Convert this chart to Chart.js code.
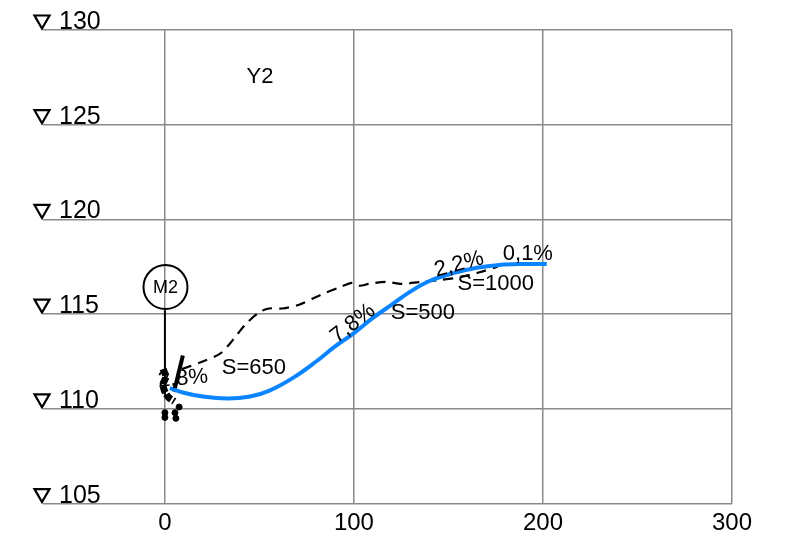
<!DOCTYPE html>
<html>
<head>
<meta charset="utf-8">
<script src="https://cdn.jsdelivr.net/npm/chart.js@4"></script>
<style>
  html, body { margin: 0; padding: 0; background: #fff; }
  #wrap { width: 785px; height: 544px; }
</style>
</head>
<body>
<div id="wrap"><canvas id="profile_chart"></canvas></div>
<script>
// axis ticks
var xTicks = [0, 100, 200, 300];
var yTicks = [105, 110, 115, 120, 125, 130];

// design line (blue)
var designX = [2.6, 10, 20, 33, 45, 55, 68, 80, 90, 100, 110, 120, 130, 140, 152, 165, 177, 190, 202];
var designY = [111.1, 110.85, 110.65, 110.55, 110.65, 110.95, 111.65, 112.5, 113.3, 114.0, 114.8, 115.5, 116.2, 116.75, 117.15, 117.45, 117.6, 117.65, 117.65];

// existing ground (dashed)
var groundX = [9, 20, 29, 34, 38, 43, 50, 55, 62, 71, 82, 92, 99, 103, 108, 117, 125, 135, 145, 156, 166, 176];
var groundY = [112.1, 112.5, 112.9, 113.4, 113.9, 114.5, 115.1, 115.3, 115.3, 115.5, 116.0, 116.4, 116.65, 116.5, 116.6, 116.7, 116.6, 116.7, 116.8, 116.95, 117.2, 117.5];

// M2 marker and its stem
var markerX = [0.3];
var markerY = [116.43];
var stemX = [0, 0];
var stemY = [115.2, 110.7];

// rubble at the foot of the stem
var rubbleX = [-1, 0.5, -1, 0, 2, 5];
var rubbleY = [112.1, 111.7, 111.3, 110.9, 110.6, 110.4];
var stakeX = [9.5, 4.8];
var stakeY = [112.82, 110.9];
var dotsX = [0, 5.3, 7.5, 5.8, 0];
var dotsY = [109.8, 109.8, 110.1, 109.5, 109.55];

// text labels on the plot
var noteText = ['Y2', '2,8%', 'S=650', '7,8%', 'S=500', '2,2%', 'S=1000', '0,1%'];
var noteX = [50.3, 9.5, 47.1, 99.5, 136.5, 155.6, 175, 192];
var noteY = [127.5, 111.6, 112.14, 114.5, 115.04, 117.63, 116.57, 118.2];
var noteAngle = [0, -5, 0, -38, 0, -15, 0, 0];

function pts(xs, ys) {
    return xs.map(function (v, i) { return { x: v, y: ys[i] }; });
}

var FONT = "'Liberation Sans', Arial, sans-serif";

// draws the "▽ 130" style elevation labels and the plot notes
var labelPlugin = {
    id: 'labels',
    afterDatasetsDraw: function (chart) {
        var c = chart.ctx, xs = chart.scales.x, ys = chart.scales.y;
        var left = chart.chartArea.left;
        c.save();
        c.fillStyle = '#000';
        c.strokeStyle = '#000';
        c.lineWidth = 2.2;
        c.font = '25px ' + FONT;
        c.textBaseline = 'alphabetic';
        c.textAlign = 'left';
        yTicks.forEach(function (v) {
            var py = ys.getPixelForValue(v);
            c.beginPath();
            c.moveTo(left - 8.5, py - 14.5);
            c.lineTo(left + 6.5, py - 14.5);
            c.lineTo(left - 1, py - 1.5);
            c.closePath();
            c.stroke();
            c.fillText(String(v), left + 16, py - 1);
        });

        // M2 text
        c.font = '18px ' + FONT;
        c.textAlign = 'center';
        c.textBaseline = 'middle';
        c.fillText('M2', xs.getPixelForValue(markerX[0]), ys.getPixelForValue(markerY[0]) + 1);

        c.font = '22px ' + FONT;
        noteText.forEach(function (t, i) {
            c.save();
            c.translate(xs.getPixelForValue(noteX[i]), ys.getPixelForValue(noteY[i]));
            c.rotate(noteAngle[i] * Math.PI / 180);
            c.fillText(t, 0, 0);
            c.restore();
        });
        c.restore();
    }
};

var ctx = document.getElementById('profile_chart').getContext('2d');

new Chart(ctx, {
    type: 'scatter',
    data: {
        datasets: [
            {
                label: 'design',
                data: pts(designX, designY),
                showLine: true,
                borderColor: '#0a84ff',
                borderWidth: 4,
                pointRadius: 0,
                tension: 0.4
            },
            {
                label: 'ground',
                data: pts(groundX, groundY),
                showLine: true,
                borderColor: '#000',
                borderWidth: 2.2,
                borderDash: [10, 7],
                pointRadius: 0,
                tension: 0.3
            },
            {
                label: 'marker',
                data: pts(markerX, markerY),
                pointRadius: 22,
                pointBorderWidth: 2,
                pointBorderColor: '#000',
                pointBackgroundColor: 'rgba(0,0,0,0)'
            },
            {
                label: 'stem',
                data: pts(stemX, stemY),
                showLine: true,
                borderColor: '#000',
                borderWidth: 2,
                pointRadius: 0
            },
            {
                label: 'rubble',
                data: pts(rubbleX, rubbleY),
                showLine: true,
                borderColor: '#000',
                borderWidth: 7,
                borderDash: [7, 2],
                pointRadius: 0,
                tension: 0.3
            },
            {
                label: 'stake',
                data: pts(stakeX, stakeY),
                showLine: true,
                borderColor: '#000',
                borderWidth: 4,
                pointRadius: 0
            },
            {
                label: 'dots',
                data: pts(dotsX, dotsY),
                pointRadius: 3,
                pointBackgroundColor: '#000',
                pointBorderColor: '#000'
            }
        ]
    },
    options: {
        responsive: true,
        maintainAspectRatio: false,
        animation: false,
        events: [],
        layout: { padding: { left: 43, right: 53, top: 30, bottom: 0 } },
        plugins: { legend: { display: false }, tooltip: { enabled: false } },
        scales: {
            x: {
                type: 'linear',
                min: -64.5,
                max: 300,
                afterBuildTicks: function (axis) {
                    axis.ticks = xTicks.map(function (v) { return { value: v }; });
                },
                grid: { color: '#8a8a8a', lineWidth: 1.5, drawTicks: false },
                border: { display: false },
                ticks: {
                    color: '#000',
                    padding: 10,
                    maxRotation: 0,
                    font: { family: FONT, size: 24, lineHeight: 0.85 }
                }
            },
            y: {
                type: 'linear',
                min: 105,
                max: 130,
                afterBuildTicks: function (axis) {
                    axis.ticks = yTicks.map(function (v) { return { value: v }; });
                },
                grid: { color: '#8a8a8a', lineWidth: 1.5, drawTicks: false },
                border: { display: false },
                ticks: { display: false }
            }
        }
    },
    plugins: [labelPlugin]
});
</script>
</body>
</html>
